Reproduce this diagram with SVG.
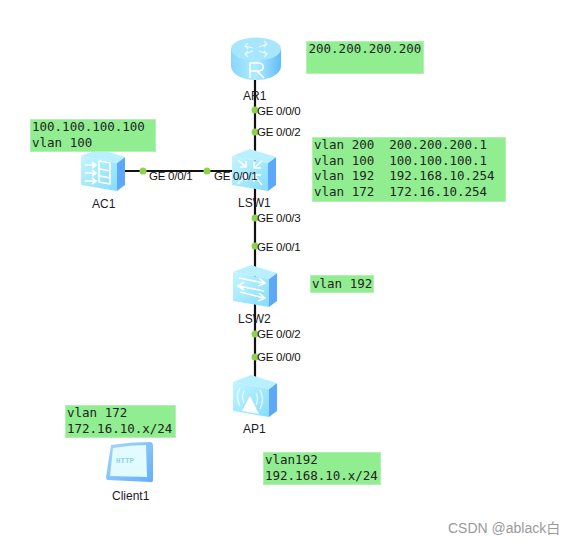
<svg xmlns="http://www.w3.org/2000/svg" width="574" height="544" viewBox="0 0 574 544">
<defs>
<style>
.note{fill:#90ee90;stroke:#b4f0b4;stroke-width:1}
.mono{font-family:"DejaVu Sans Mono","Liberation Mono",monospace;font-size:12.5px;fill:#222;white-space:pre}
.lbl{font-family:"Liberation Sans",Arial,sans-serif;font-size:12px;fill:#1a1a2a}
.port{font-family:"Liberation Sans",Arial,sans-serif;font-size:11.500px;fill:#111;letter-spacing:-.25px}
.wire{stroke:#111;stroke-width:2.200;fill:none}
.dot{fill:#8fd14f}
.gl{fill:none;stroke:#fff;stroke-width:1.600;stroke-linejoin:round}
</style>
<linearGradient id="fr" x1="0" y1="0" x2="1" y2="1"><stop offset="0" stop-color="#c4f5ff"/><stop offset="1" stop-color="#86dcfc"/></linearGradient>
<linearGradient id="rt" x1="0" y1="0" x2="1" y2="0"><stop offset="0" stop-color="#8ad6fb"/><stop offset=".5" stop-color="#b0ecfe"/><stop offset="1" stop-color="#63bbfb"/></linearGradient>
<linearGradient id="cl" x1="0" y1="0" x2="1" y2="1"><stop offset="0" stop-color="#a4d8fc"/><stop offset="1" stop-color="#64aefb"/></linearGradient>
<g id="box">
<path fill="#5ea8fb" d="M36 14L44 8V36L36 42Z"/>
<path fill="#b8f0ff" d="M0 7L18 0L44 8L36 14Z"/>
<path fill="url(#fr)" d="M0 7L36 14V42L0 36Z"/>
</g>
</defs>
<g id="connectors">
<path class="wire" d="M255 72V382"/>
<path class="wire" d="M120 171H235"/>
</g>
<g id="AR1">
<path d="M231 49V66C231 74 242 80 256 80S281 74 281 66V49Z" fill="url(#rt)"/>
<ellipse cx="256" cy="49" rx="25" ry="11.500" fill="#a8e6fd"/>
<path d="M250 78V63H258C265 63 265 71 258 71H250M257 71L264 78" class="gl" stroke-width="2.400"/>
<path d="M245 46L253 48M248 43L245 46L248 49M267 44L259 47M264 41L267 44L264 47M245 54L253 51M248 57L245 54L248 51M267 54L259 51M264 57L267 54L264 51" fill="none" stroke="#e4fbff" stroke-width="1.200"/>
<text class="lbl" x="243" y="100">AR1</text>
</g>
<g id="AC1">
<use href="#box" x="81" y="149"/>
<path class="gl" d="M85 165H96M85 173H96M85 181H96M92 162L96 165L92 168M92 170L96 173L92 176M92 178L96 181L92 184"/>
<path class="gl" stroke-width="1.200" d="M99 161L110 163V184L99 182ZM100 169L110 171M100 176L110 178"/>
<text class="lbl" x="92" y="208">AC1</text>
</g>
<g id="LSW1">
<use href="#box" x="232" y="149"/>
<path class="gl" stroke-width="1.400" d="M238 160L246 167M240 167H246V161M262 161L254 168M254 162V168H261M238 184L246 175M240 175H246V181M262 185L254 175M254 182V175H261"/>
<text class="lbl" x="238" y="207">LSW1</text>
</g>
<g id="LSW2">
<use href="#box" x="233" y="265"/>
<path class="gl" d="M239 278L264 283M259 278L265 283L258 286M264 291L239 286M244 282L238 286L244 290M240 292L264 298M259 293L265 298L258 301"/>
<text class="lbl" x="238" y="323">LSW2</text>
</g>
<g id="AP1">
<use href="#box" x="233" y="375"/>
<path d="M250 396L242 411L259 414Z" fill="#fff"/>
<path d="M244 391Q241 397 244 403M240 388Q235 397 240 406M256 393Q259 399 256 405M260 390Q265 399 260 409" fill="none" stroke="#e6fbff" stroke-width="1.300"/>
<text class="lbl" x="243" y="433">AP1</text>
</g>
<g id="Client1">
<path d="M111 445Q130 442 150 442Q153 442 153 446L153 480Q153 483 150 482L108 480Q106 480 106 477Z" fill="url(#cl)"/>
<path d="M113 448Q130 445 146 445L147 477L110 476Z" fill="#e2fbff"/>
<text x="116" y="463" font-family="Liberation Mono,monospace" font-size="7.500" fill="#8fd3ee" font-weight="700">HTTP</text>
<text class="lbl" x="112" y="500">Client1</text>
</g>
<g id="ports">
<g class="dot">
<circle cx="255" cy="110" r="3.500"/><circle cx="255" cy="132" r="3.500"/>
<circle cx="143" cy="171" r="3.500"/><circle cx="207" cy="171" r="3.500"/>
<circle cx="255" cy="218" r="3.500"/><circle cx="255" cy="246" r="3.500"/>
<circle cx="255" cy="334" r="3.500"/><circle cx="255" cy="357" r="3.500"/>
</g>
<g class="port">
<text x="257" y="115">GE 0/0/0</text>
<text x="257" y="136">GE 0/0/2</text>
<text x="149" y="180">GE 0/0/1</text>
<text x="214" y="180">GE 0/0/1</text>
<text x="257" y="222">GE 0/0/3</text>
<text x="257" y="251">GE 0/0/1</text>
<text x="257" y="338">GE 0/0/2</text>
<text x="257" y="361">GE 0/0/0</text>
</g>
</g>
<g id="note-ar1">
<rect class="note" x="306.500" y="41.500" width="117" height="32"/>
<text class="mono" x="308.500" y="53">200.200.200.200</text>
</g>
<g id="note-lsw1">
<rect class="note" x="312.500" y="137.500" width="193" height="64"/>
<text class="mono" x="314" y="149">vlan 200  200.200.200.1</text>
<text class="mono" x="314" y="165">vlan 100  100.100.100.1</text>
<text class="mono" x="314" y="180">vlan 192  192.168.10.254</text>
<text class="mono" x="314" y="196">vlan 172  172.16.10.254</text>
</g>
<g id="note-ac1">
<rect class="note" x="30.500" y="119.500" width="125" height="32"/>
<text class="mono" x="32" y="131">100.100.100.100</text>
<text class="mono" x="32" y="147">vlan 100</text>
</g>
<g id="note-lsw2">
<rect class="note" x="310.500" y="275.500" width="63" height="17"/>
<text class="mono" x="312" y="288">vlan 192</text>
</g>
<g id="note-client">
<rect class="note" x="65.500" y="405.500" width="110" height="32"/>
<text class="mono" x="67" y="417">vlan 172</text>
<text class="mono" x="67" y="433">172.16.10.x/24</text>
</g>
<g id="note-ap">
<rect class="note" x="263.500" y="452.500" width="117" height="32"/>
<text class="mono" x="265" y="464">vlan192</text>
<text class="mono" x="265" y="480">192.168.10.x/24</text>
</g>
<text x="448" y="533" font-family="Liberation Sans,Noto Sans CJK SC,sans-serif" font-size="14px" fill="#9a9a9a">CSDN @ablack白</text>
</svg>
